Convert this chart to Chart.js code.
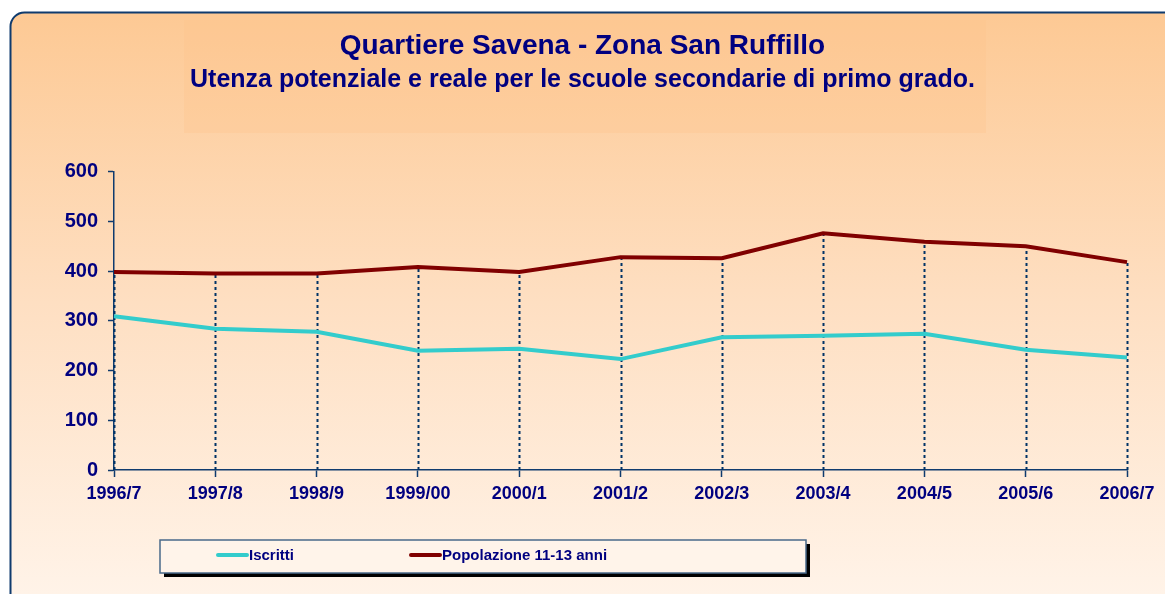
<!DOCTYPE html>
<html>
<head>
<meta charset="utf-8">
<script src="https://cdn.jsdelivr.net/npm/chart.js@4/dist/chart.umd.min.js"></script>
<style>
  html, body { margin: 0; padding: 0; background: #ffffff; }
  #wrap { width: 1165px; height: 594px; position: relative; }
</style>
</head>
<body>
<div id="wrap"><canvas id="grafico" width="1165" height="594"></canvas></div>
<script>
var anni = ['1996/7', '1997/8', '1998/9', '1999/00', '2000/1', '2001/2', '2002/3', '2003/4', '2004/5', '2005/6', '2006/7'];
var iscritti = [309, 284, 278, 240, 244, 223, 267, 270, 274, 242, 226];
var popolazione = [398, 395, 395, 408, 398, 428, 426, 476, 459, 450, 418];
var tickY = [0, 100, 200, 300, 400, 500, 600];

var blu = '#000080';
var bordo = '#0f3b6e';
var font = '"Liberation Sans", Arial, sans-serif';

// sfondo arrotondato con gradiente + riquadro del titolo
var sfondo = {
    id: 'sfondo',
    beforeDraw(chart) {
        var ctx = chart.ctx;
        ctx.save();
        var g = ctx.createLinearGradient(0, 12, 0, 594);
        g.addColorStop(0, '#fdc994');
        g.addColorStop(0.5, '#fedfc2');
        g.addColorStop(1, '#fff3e8');
        ctx.beginPath();
        ctx.roundRect(10.5, 12.5, 1170, 600, 14);
        ctx.fillStyle = g;
        ctx.fill();
        ctx.lineWidth = 2;
        ctx.strokeStyle = bordo;
        ctx.stroke();
        ctx.fillStyle = 'rgba(255, 196, 140, 0.3)';
        ctx.fillRect(184, 20, 802, 113);
        ctx.restore();
    }
};

// linee di proiezione tratteggiate dal valore piu alto fino all'asse
var proiezioni = {
    id: 'proiezioni',
    beforeDatasetsDraw(chart) {
        var ctx = chart.ctx;
        var x = chart.scales.x, y = chart.scales.y;
        ctx.save();
        ctx.setLineDash([3, 3]);
        ctx.lineWidth = 2;
        ctx.strokeStyle = '#003366';
        anni.forEach(function (a, i) {
            var top = Math.max(iscritti[i], popolazione[i]);
            var px = Math.round(x.getPixelForValue(i)) + 0.5;
            ctx.beginPath();
            ctx.moveTo(px, y.getPixelForValue(0));
            ctx.lineTo(px, y.getPixelForValue(top));
            ctx.stroke();
        });
        ctx.restore();
    }
};

// legenda in un riquadro con ombra
var legenda = {
    id: 'legenda',
    afterDraw(chart) {
        var ctx = chart.ctx;
        ctx.save();
        ctx.fillStyle = '#000000';
        ctx.fillRect(164, 544, 646, 33);
        ctx.fillStyle = '#fff4ea';
        ctx.fillRect(160, 540, 646, 33);
        ctx.lineWidth = 1.5;
        ctx.strokeStyle = '#4a6a8a';
        ctx.strokeRect(160, 540, 646, 33);
        ctx.font = 'bold 15px ' + font;
        ctx.textBaseline = 'middle';
        ctx.lineCap = 'round';
        var voci = [
            { testo: chart.data.datasets[0].label, colore: chart.data.datasets[0].borderColor, x: 218 },
            { testo: chart.data.datasets[1].label, colore: chart.data.datasets[1].borderColor, x: 411 }
        ];
        voci.forEach(function (v) {
            ctx.strokeStyle = v.colore;
            ctx.lineWidth = 4;
            ctx.beginPath();
            ctx.moveTo(v.x, 555);
            ctx.lineTo(v.x + 29, 555);
            ctx.stroke();
            ctx.fillStyle = blu;
            ctx.fillText(v.testo, v.x + 31, 556);
        });
        ctx.restore();
    }
};

var grafico = new Chart(document.getElementById('grafico').getContext('2d'), {
    type: 'line',
    data: {
        labels: anni,
        datasets: [{
            label: 'Iscritti',
            data: iscritti,
            borderColor: '#33cccc',
            borderWidth: 4,
            pointRadius: 0,
            tension: 0
        }, {
            label: 'Popolazione 11-13 anni',
            data: popolazione,
            borderColor: '#800000',
            borderWidth: 4,
            pointRadius: 0,
            tension: 0
        }]
    },
    plugins: [sfondo, proiezioni, legenda],
    options: {
        responsive: false,
        animation: false,
        layout: { padding: { left: 38, right: 38, top: 0, bottom: 0 } },
        plugins: {
            legend: { display: false },
            tooltip: { enabled: false },
            title: {
                display: true,
                text: 'Quartiere Savena - Zona San Ruffillo',
                color: blu,
                font: { family: font, size: 28, weight: 'bold' },
                padding: { top: 29, bottom: 1 }
            },
            subtitle: {
                display: true,
                text: 'Utenza potenziale e reale per le scuole secondarie di primo grado.',
                color: blu,
                font: { family: font, size: 25, weight: 'bold' },
                padding: { top: 2, bottom: 76 }
            }
        },
        scales: {
            x: {
                offset: false,
                grid: { drawOnChartArea: false, drawTicks: true, tickLength: 7, color: bordo, tickWidth: 1.5 },
                border: { color: bordo, width: 1.5 },
                ticks: {
                    color: blu,
                    padding: 6,
                    maxRotation: 0,
                    autoSkip: false,
                    font: { family: font, size: 18, weight: 'bold' }
                },
                afterFit: function (s) { s.height = 124; }
            },
            y: {
                min: 0,
                max: 600,
                afterBuildTicks: function (s) { s.ticks = tickY.map(function (v) { return { value: v }; }); },
                grid: { drawOnChartArea: false, drawTicks: true, tickLength: 6, color: bordo, tickWidth: 1.5 },
                border: { color: bordo, width: 1.5 },
                ticks: {
                    color: blu,
                    padding: 10,
                    font: { family: font, size: 20, weight: 'bold' }
                },
                afterFit: function (s) { s.width = 76; }
            }
        }
    }
});
</script>
</body>
</html>
